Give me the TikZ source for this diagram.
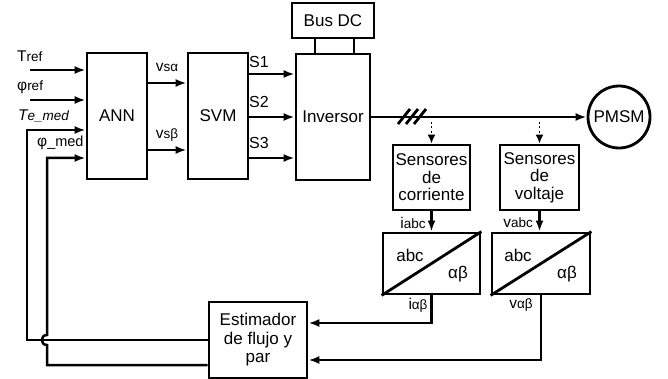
\documentclass[tikz,border=0pt]{standalone}
\usepackage{fontspec}
\setmainfont{Liberation Sans}
\usetikzlibrary{arrows.meta}
\newcommand{\sml}[1]{{\fontsize{13.5}{15}\selectfont #1}}
\begin{document}
\begin{tikzpicture}[x=1pt,y=-1pt,
 blk/.style={draw, line width=2.8pt, inner sep=0pt, font=\fontsize{17}{18}\selectfont, align=center},
 wire/.style={line width=2.5pt},
 arr/.style={wire, -{Latex[length=11pt,width=8pt]}},
 dotarr/.style={line width=1.8pt, dash pattern=on 2pt off 2.5pt, -{Latex[length=9pt,width=8pt]}},
 lbl/.style={inner sep=0pt, font=\fontsize{15.5}{17}\selectfont},
 conv/.style={inner sep=0pt, font=\fontsize{17}{18}\selectfont},
]
\useasboundingbox (0,0) rectangle (668,379);
\fill[white] (0,0) rectangle (668,379);

\node[blk, minimum width=60pt, minimum height=126pt] (ann) at (117,116) {ANN};
\node[blk, minimum width=60pt, minimum height=126pt] (svm) at (218,116) {SVM};
\node[blk, minimum width=74pt, minimum height=126pt] (inv) at (333,117) {Inversor};
\node[blk, minimum width=82pt, minimum height=35pt] (bus) at (333,20.5) {Bus DC};
\node[blk, circle, minimum size=62pt] (pmsm) at (619,117) {PMSM};
\node[blk, minimum width=77pt, minimum height=65pt, font=\fontsize{17}{17.5}\selectfont] (sc) at (431.5,177.5) {Sensores\\de\\corriente};
\node[blk, minimum width=79pt, minimum height=65pt, font=\fontsize{17}{17.5}\selectfont] (sv) at (539.5,177.5) {Sensores\\de\\voltaje};
\node[blk, minimum width=97pt, minimum height=61pt] (c1) at (431.5,263.5) {};
\node[blk, minimum width=98pt, minimum height=61pt] (c2) at (541,263.5) {};
\node[blk, minimum width=98pt, minimum height=76pt, font=\fontsize{17}{18.5}\selectfont] (est) at (258,340) {Estimador\\de flujo y\\par};

% Bus DC links
\draw[wire] ([xshift=-18pt]bus.south) -- ([xshift=-18pt]bus.south |- inv.north);
\draw[wire] ([xshift=21pt]bus.south) -- ([xshift=21pt]bus.south |- inv.north);

% inputs
\coordinate (tin) at (30,70);
\coordinate (pin) at (30,100);
\draw[arr] (tin) -- (tin -| ann.west);
\draw[arr] (pin) -- (pin -| ann.west);

% feedback
\coordinate (fb1) at (27,130);
\coordinate (fb2) at (47,158);
\coordinate (h1) at (47,345);
\coordinate (h2) at (47,335);
\draw[arr] (est.west) -| (fb1) -- (fb1 -| ann.west);
\draw[arr] ([yshift=-25pt]est.west) -| (h1) .. controls (40,345) and (40,335) .. (h2) -- (fb2) -- (fb2 -| ann.west);

% ANN -> SVM
\path ([yshift=33pt]ann.east) coordinate (a1);
\path ([yshift=-34pt]ann.east) coordinate (a2);
\draw[arr] (a1) -- (a1 -| svm.west);
\draw[arr] (a2) -- (a2 -| svm.west);

% SVM -> Inversor
\path ([yshift=42pt]svm.east) coordinate (s1);
\path ([yshift=-1pt]svm.east) coordinate (s2);
\path ([yshift=-42pt]svm.east) coordinate (s3);
\draw[arr] (s1) -- (s1 -| inv.west);
\draw[arr] (s2) -- (s2 -| inv.west);
\draw[arr] (s3) -- (s3 -| inv.west);

% Inversor -> PMSM
\draw[arr] (inv.east) -- (pmsm.west);
\foreach \x in {404,412,420} \draw[line width=2.8pt] (\x-6,124) -- (\x+6,109);

% sensors
\draw[dotarr] ([yshift=-5pt]sc.north |- inv.east) -- (sc.north);
\draw[dotarr] ([yshift=-5pt]sv.north |- inv.east) -- (sv.north);
\draw[arr] (sc.south) -- (c1.north);
\draw[arr] (sv.south) -- (sv.south |- c2.north);

% converters
\draw[line width=2.8pt] (c1.south west) -- (c1.north east);
\draw[line width=2.8pt] (c2.south west) -- (c2.north east);
\node[conv] at (410,255) {abc};
\node[conv] at (458,274) {αβ};
\node[conv] at (518,255) {abc};
\node[conv] at (567,274) {αβ};

% to estimator
\draw[arr] (c1.south) |- ([yshift=17pt]est.east);
\draw[arr] (c2.south) |- ([yshift=-20pt]est.east);

% labels
\node[lbl, anchor=west] at (17,56) {T\sml{ref}};
\node[lbl, anchor=west] at (17,87) {φ\sml{ref}};
\node[lbl, anchor=west] at (18,116) {\itshape T\sml{e\_med}};
\node[lbl, anchor=west] at (37,143) {φ{\fontsize{14.5}{16}\selectfont\_med}};
\node[lbl] at (167,67) {v\sml{sα}};
\node[lbl] at (167,135) {v\sml{sβ}};
\node[lbl, anchor=west, font=\fontsize{16}{18}\selectfont] at (249,62) {S1};
\node[lbl, anchor=west, font=\fontsize{16}{18}\selectfont] at (249,102) {S2};
\node[lbl, anchor=west, font=\fontsize{16}{18}\selectfont] at (249,143) {S3};
\node[lbl] at (413,223) {i\sml{abc}};
\node[lbl] at (518,223) {v\sml{abc}};
\node[lbl] at (418,305) {i\sml{αβ}};
\node[lbl] at (521,305) {v\sml{αβ}};
\end{tikzpicture}
\end{document}
